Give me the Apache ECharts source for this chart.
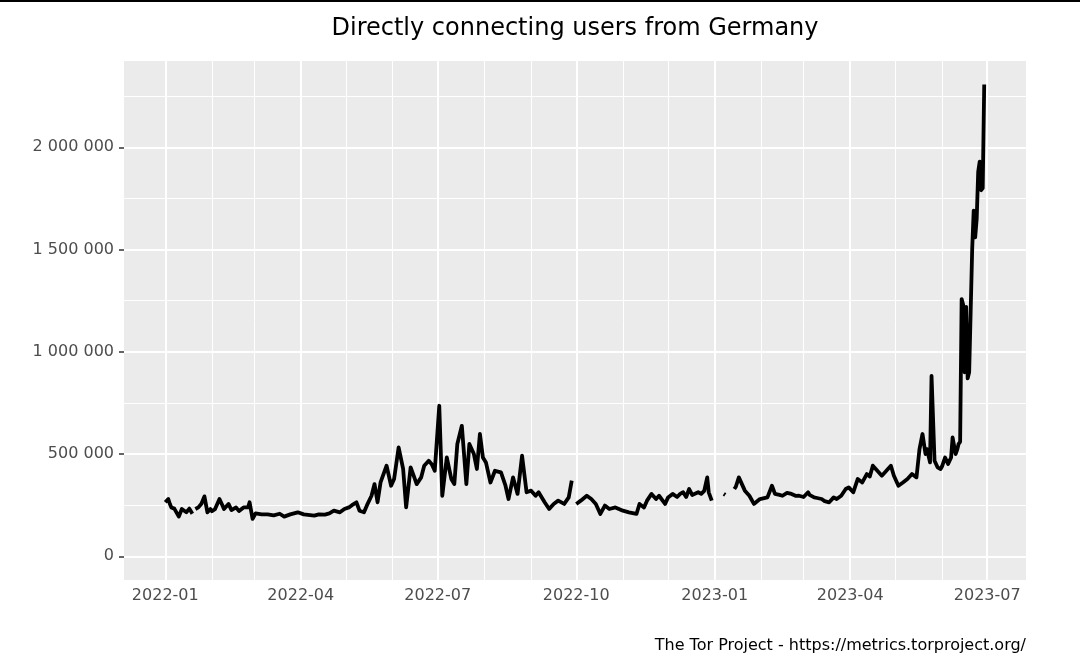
<!doctype html>
<html lang="en">
<head>
<meta charset="UTF-8">
<title>Directly connecting users from Germany</title>
<style>
  html, body { margin: 0; padding: 0; background: #fff; }
  #main { width: 1080px; height: 662px; }
</style>
</head>
<body>
<div id="main"></div>
<script src="https://cdn.jsdelivr.net/npm/echarts@6/dist/echarts.min.js"></script>
<script>
// daily users (null = no data that day)
var dates = [
  '2022-01-01','2022-01-03','2022-01-04','2022-01-05','2022-01-07','2022-01-10','2022-01-12','2022-01-15','2022-01-17','2022-01-19',
  '2022-01-20','2022-01-21','2022-01-23','2022-01-25','2022-01-27','2022-01-29','2022-01-31','2022-02-01','2022-02-03','2022-02-06',
  '2022-02-08','2022-02-09','2022-02-12','2022-02-14','2022-02-17','2022-02-19','2022-02-22','2022-02-25','2022-02-26','2022-02-28',
  '2022-03-02','2022-03-06','2022-03-10','2022-03-14','2022-03-18','2022-03-21','2022-03-25','2022-03-30','2022-04-03','2022-04-10',
  '2022-04-13','2022-04-17','2022-04-20','2022-04-23','2022-04-27','2022-04-30','2022-05-03','2022-05-05','2022-05-08','2022-05-10',
  '2022-05-13','2022-05-15','2022-05-18','2022-05-20','2022-05-22','2022-05-24','2022-05-28','2022-05-31','2022-06-02','2022-06-05',
  '2022-06-08','2022-06-10','2022-06-13','2022-06-15','2022-06-17','2022-06-20','2022-06-22','2022-06-25','2022-06-27','2022-06-29',
  '2022-07-02','2022-07-04','2022-07-07','2022-07-10','2022-07-12','2022-07-14','2022-07-17','2022-07-20','2022-07-22','2022-07-25',
  '2022-07-27','2022-07-29','2022-07-31','2022-08-02','2022-08-05','2022-08-08','2022-08-12','2022-08-15','2022-08-17','2022-08-20',
  '2022-08-23','2022-08-26','2022-08-29','2022-09-01','2022-09-04','2022-09-06','2022-09-10','2022-09-13','2022-09-16','2022-09-19',
  '2022-09-23','2022-09-26','2022-09-28','2022-09-29','2022-10-01','2022-10-04','2022-10-08','2022-10-11','2022-10-14','2022-10-17',
  '2022-10-20','2022-10-23','2022-10-27','2022-11-01','2022-11-05','2022-11-10','2022-11-12','2022-11-15','2022-11-17','2022-11-20',
  '2022-11-23','2022-11-25','2022-11-29','2022-12-01','2022-12-04','2022-12-07','2022-12-09','2022-12-11','2022-12-13','2022-12-15',
  '2022-12-17','2022-12-21','2022-12-23','2022-12-25','2022-12-27','2022-12-28','2022-12-30','2022-12-31','2023-01-07','2023-01-08',
  '2023-01-09','2023-01-14','2023-01-15','2023-01-17','2023-01-21','2023-01-24','2023-01-27','2023-01-31','2023-02-05','2023-02-08',
  '2023-02-10','2023-02-13','2023-02-15','2023-02-18','2023-02-21','2023-02-24','2023-02-26','2023-03-01','2023-03-04','2023-03-05',
  '2023-03-08','2023-03-10','2023-03-13','2023-03-15','2023-03-18','2023-03-21','2023-03-23','2023-03-26','2023-03-29','2023-03-31',
  '2023-04-03','2023-04-06','2023-04-09','2023-04-12','2023-04-14','2023-04-16','2023-04-19','2023-04-22','2023-04-25','2023-04-28',
  '2023-04-30','2023-05-03','2023-05-06','2023-05-09','2023-05-12','2023-05-15','2023-05-17','2023-05-19','2023-05-21','2023-05-22',
  '2023-05-24','2023-05-25','2023-05-27','2023-05-29','2023-05-31','2023-06-01','2023-06-03','2023-06-05','2023-06-07','2023-06-08',
  '2023-06-10','2023-06-11','2023-06-12','2023-06-13','2023-06-14','2023-06-15','2023-06-16','2023-06-17','2023-06-18','2023-06-19',
  '2023-06-20','2023-06-21','2023-06-22','2023-06-23','2023-06-24','2023-06-25','2023-06-26','2023-06-27','2023-06-28','2023-06-29'
];
var users = [
  264000, 280000, 257000, 239000, 233000, 194000, 231000, 215000, 233000, 208000,
  null,   231000, 239000, 257000, 293000, 215000, 231000, 220000, 230000, 280000,
  248000, 231000, 256000, 226000, 239000, 221000, 239000, 239000, 264000, 183000,
  210000, 205000, 205000, 200000, 208000, 194000, 205000, 215000, 205000, 199000,
  205000, 204000, 210000, 223000, 215000, 231000, 239000, 250000, 264000, 223000,
  215000, 250000, 296000, 353000, 264000, 361000, 443000, 345000, 378000, 532000,
  427000, 239000, 435000, 394000, 353000, 386000, 443000, 467000, 450000, 418000,
  736000, 296000, 483000, 378000, 353000, 549000, 638000, 353000, 549000, 500000,
  427000, 598000, 483000, 459000, 361000, 418000, 410000, 345000, 280000, 386000,
  305000, 492000, 313000, 321000, 296000, 313000, 264000, 231000, 256000, 272000,
  256000, 288000, 370000, null,   256000, 272000, 296000, 280000, 256000, 207000,
  248000, 231000, 239000, 223000, 215000, 207000, 256000, 239000, 272000, 305000,
  280000, 296000, 256000, 288000, 305000, 290000, 305000, 313000, 290000, 329000,
  300000, 313000, 305000, 320000, 386000, 313000, 272000, null,   305000, 300000,
  null,   329000, 340000, 386000, 321000, 296000, 256000, 280000, 288000, 345000,
  305000, 300000, 296000, 310000, 305000, 295000, 296000, 290000, 313000, 300000,
  288000, 285000, 280000, 270000, 264000, 288000, 280000, 296000, 329000, 337000,
  313000, 378000, 361000, 402000, 390000, 443000, 418000, 394000, 418000, 443000,
  394000, 345000, 361000, 378000, 402000, 386000, 524000, 598000, 500000, 524000,
  459000, 882000, 467000, 435000, 427000, 440000, 483000, 451000, 483000, 581000,
  500000, 520000, 550000, 560000, 1258000, 1230000, 900000, 1220000, 870000, 900000,
  1200000, 1500000, 1690000, 1560000, 1650000, 1880000, 1930000, 1790000, 1800000, 2307000
];

var xTicks = ['2022-01', '2022-04', '2022-07', '2022-10', '2023-01', '2023-04', '2023-07'];
var xMinorTicks = ['2022-02', '2022-03', '2022-05', '2022-06', '2022-08', '2022-09', '2022-11', '2022-12',
                   '2023-02', '2023-03', '2023-05', '2023-06'];
var yTicks = [0, 500000, 1000000, 1500000, 2000000];
var yMinorTicks = [250000, 750000, 1250000, 1750000, 2250000];

// dates -> ms timestamps (UTC) so the x axis can be a plain value axis
function toTime(s) {
    var p = s.split('-');
    return Date.UTC(+p[0], +p[1] - 1, p[2] ? +p[2] : 1);
}

var font = 'DejaVu Sans';
var chart = echarts.init(document.getElementById('main'));

var gridLines = [];
xTicks.forEach(function (m) { gridLines.push({ xAxis: toTime(m), lineStyle: { width: 2 } }); });
xMinorTicks.forEach(function (m) { gridLines.push({ xAxis: toTime(m), lineStyle: { width: 1 } }); });
yTicks.forEach(function (v) { gridLines.push({ yAxis: v, lineStyle: { width: 2 } }); });
yMinorTicks.forEach(function (v) { gridLines.push({ yAxis: v, lineStyle: { width: 1 } }); });

var option = {
    animation: false,
    textStyle: { fontFamily: font },
    grid: {
        left: 124, right: 54, top: 61, bottom: 82,
        show: true, backgroundColor: '#EBEBEB', borderWidth: 0
    },
    xAxis: {
        type: 'value',
        min: Date.UTC(2021, 11, 4, 14),
        max: Date.UTC(2023, 6, 26, 18),
        axisLine: { show: false },
        splitLine: { show: false },
        axisTick: {
            show: true, length: 5, customValues: xTicks.map(toTime),
            lineStyle: { color: '#333333', width: 1.5 }
        },
        axisLabel: {
            customValues: xTicks.map(toTime),
            color: '#4D4D4D', fontSize: 16, margin: 8, fontFamily: font,
            formatter: function (v) {
                var d = new Date(v);
                return d.getUTCFullYear() + '-' + String(d.getUTCMonth() + 1).padStart(2, '0');
            }
        }
    },
    yAxis: {
        type: 'value',
        min: -116000,
        max: 2422000,
        axisLine: { show: false },
        splitLine: { show: false },
        axisTick: {
            show: true, length: 5, customValues: yTicks,
            lineStyle: { color: '#333333', width: 1.5 }
        },
        axisLabel: {
            customValues: yTicks,
            color: '#4D4D4D', fontSize: 16, margin: 10, fontFamily: font,
            formatter: function (v) {
                return String(v).replace(/\B(?=(\d{3})+(?!\d))/g, ' ');
            }
        }
    },
    graphic: [
        { type: 'rect', shape: { x: 0, y: 0, width: 1080, height: 2 }, style: { fill: '#000' } },
        {
            type: 'text', x: 575, y: 29,
            style: {
                text: 'Directly connecting users from Germany', fill: '#000',
                font: '24px "DejaVu Sans"', textAlign: 'center', textVerticalAlign: 'middle'
            }
        },
        {
            type: 'text', x: 1026, y: 646,
            style: {
                text: 'The Tor Project - https://metrics.torproject.org/', fill: '#000',
                font: '16px "DejaVu Sans"', textAlign: 'right', textVerticalAlign: 'middle'
            }
        }
    ],
    series: [
        {
            name: 'users',
            type: 'line',
            z: 3,
            showSymbol: false,
            connectNulls: false,
            lineStyle: { color: '#000', width: 3.8, join: 'round' },
            data: dates.map(function (d, i) { return [toTime(d), users[i]]; }),
            markLine: {
                silent: true,
                z: 1,
                symbol: ['none', 'none'],
                label: { show: false },
                lineStyle: { color: '#FFFFFF', type: 'solid', opacity: 1 },
                emphasis: { disabled: true },
                data: gridLines
            }
        }
    ]
};
chart.setOption(option);
</script>
</body>
</html>
